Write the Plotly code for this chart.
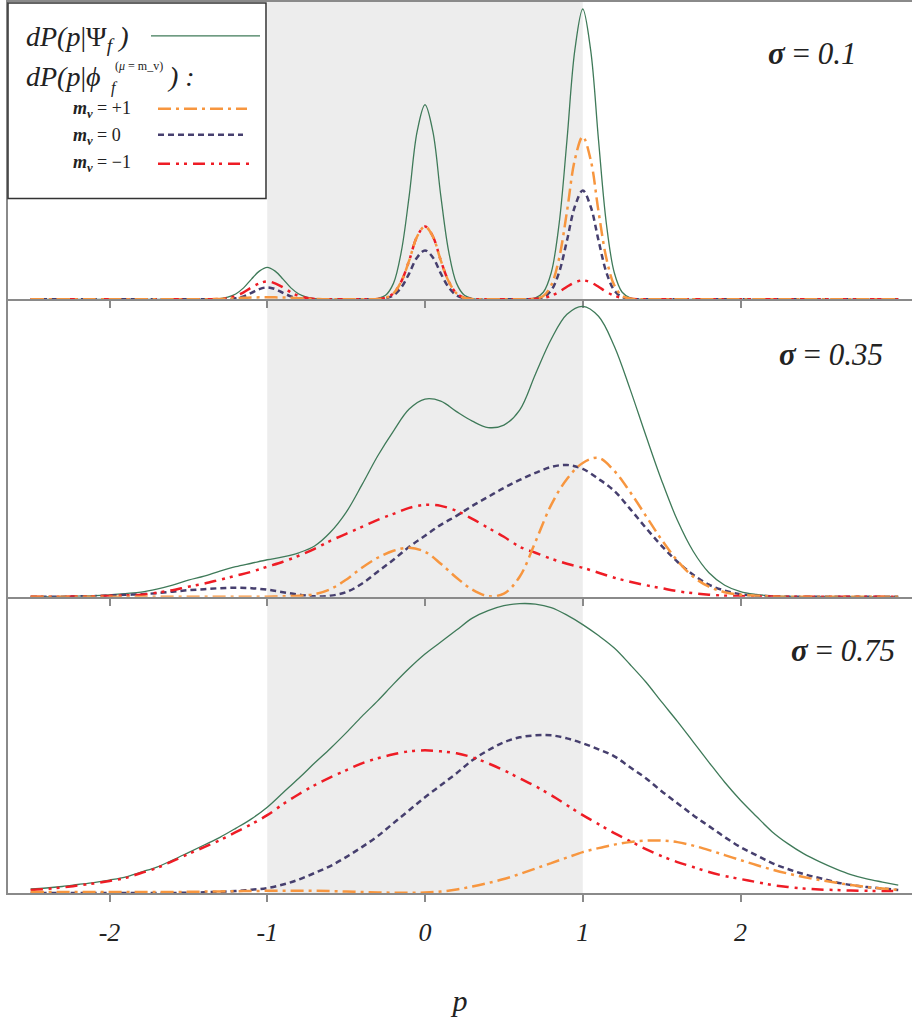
import plotly.graph_objects as go
from plotly.subplots import make_subplots

# ---------------- data ----------------
# Panel 1 (sigma = 0.1)
p1 = [-2.5, -2.0, -1.5, -1.4,
      -1.35, -1.3, -1.25, -1.2, -1.15, -1.1, -1.05, -1.0, -0.95, -0.9, -0.85, -0.8, -0.75, -0.7, -0.65,
      -0.6, -0.5, -0.4,
      -0.35, -0.3, -0.25, -0.2, -0.15, -0.1, -0.05, 0.0, 0.05, 0.1, 0.15, 0.2, 0.25, 0.3, 0.35,
      0.4, 0.5, 0.6,
      0.65, 0.7, 0.75, 0.8, 0.85, 0.9, 0.95, 1.0, 1.05, 1.1, 1.15, 1.2, 1.25, 1.3, 1.35,
      1.4, 1.5, 2.0, 2.5, 3.0]
total1 = [0, 0, 0, 0,
          0.3, 0.75, 2.25, 5.4, 11.5, 20.3, 28.3, 32, 28.3, 20.3, 11.5, 5.4, 2.25, 0.75, 0.3,
          0, 0, 0,
          0, 0.8, 4, 16, 48, 104, 168, 195, 168, 104, 48, 16, 4, 0.8, 0,
          0, 0, 0,
          0.1, 1.5, 7.1, 26.6, 75.5, 159.6, 250, 291, 250, 159.6, 75.5, 26.6, 7.1, 1.5, 0.1,
          0, 0, 0, 0, 0]
plus1 = [0, 0, 0, 0.1,
         0.2, 0.3, 0.6, 1.0, 1.5, 1.8, 2, 2, 2, 1.8, 1.5, 1.0, 0.6, 0.3, 0.2,
         0, 0, 0,
         0, 0.3, 1.5, 6, 18, 39, 63, 73, 63, 39, 18, 6, 1.5, 0.3, 0,
         0, 0, 0,
         0, 0.6, 3.4, 14, 41, 88, 140, 163, 140, 88, 41, 14, 3.4, 0.6, 0,
         0, 0, 0, 0, 0]
zero1 = [0, 0, 0, 0,
         0, 0.05, 0.25, 1, 3, 6.5, 10.3, 12, 10.3, 6.5, 3, 1, 0.25, 0.05, 0,
         0, 0, 0,
         0, 0.2, 1, 4, 12, 26, 42, 49, 42, 26, 12, 4, 1, 0.2, 0,
         0, 0, 0,
         0, 0.4, 2.3, 9, 27, 59, 93, 109, 93, 59, 27, 9, 2.3, 0.4, 0,
         0, 0, 0, 0, 0]
minus1 = [0, 0, 0, 0,
          0.1, 0.4, 1.4, 3.4, 7, 12, 16, 18, 16, 12, 7, 3.4, 1.4, 0.4, 0.1,
          0, 0, 0,
          0, 0.3, 1.5, 6, 18, 39, 63, 73, 63, 39, 18, 6, 1.5, 0.3, 0,
          0, 0, 0,
          0.1, 0.5, 1.4, 3.6, 7.5, 12.6, 17, 19, 17, 12.6, 7.5, 3.6, 1.4, 0.5, 0.1,
          0, 0, 0, 0, 0]

# Panels 2 and 3 share a grid of p values
p23 = [-2.5, -2.4, -2.3, -2.2, -2.1, -2.0, -1.9, -1.8, -1.7, -1.6, -1.5, -1.4, -1.3, -1.2, -1.1,
       -1.0, -0.9, -0.8, -0.7, -0.6, -0.5, -0.4, -0.3, -0.2, -0.1, 0.0, 0.1, 0.2, 0.3, 0.4,
       0.5, 0.6, 0.7, 0.8, 0.9, 1.0, 1.1, 1.2, 1.3, 1.4, 1.5, 1.6, 1.7, 1.8, 1.9,
       2.0, 2.1, 2.2, 2.3, 2.4, 2.5, 2.6, 2.7, 2.8, 2.9, 3.0]

# Panel 2 (sigma = 0.35)
total2 = [0, 0, 0, 0.5, 0.9, 1.8, 3.1, 4.5, 7.5, 11.5, 16.5, 20.5, 25.5, 30, 33.5,
          37, 39.8, 44, 50.8, 64.5, 84.5, 112, 141, 166, 188, 198, 196, 185.5, 176, 169.5,
          172, 187, 223, 258, 283, 291, 281, 251, 208, 161.5, 116.5, 76.5, 45.5, 24, 11.5,
          5.1, 2.3, 0.8, 0.3, 0, 0, 0, 0, 0, 0, 0]
plus2 = [0, 0, 0, 0, 0, 0, 0, 0, 0, 0, 0, 0, 0, 0, 0,
         0, 0.3, 1, 2.5, 7.5, 17, 29, 39, 46, 49, 45, 33, 19, 7, 0.5,
         3, 20, 55, 92, 118, 134, 139, 126, 105, 81, 57, 36, 20, 10, 4.5,
         2, 1, 0.3, 0, 0, 0, 0, 0, 0, 0, 0]
zero2 = [0, 0, 0, 0.3, 0.5, 1, 1.8, 2.5, 3.5, 5, 6.5, 7.5, 8.5, 9, 8.5,
         7, 4.5, 2, 0.3, 1, 4.5, 13, 25, 37, 50, 61, 72, 81, 91, 100,
         109, 117, 124, 130, 132, 128, 118, 106, 88, 69, 51, 35, 22, 12, 6,
         2.5, 1, 0.4, 0, 0, 0, 0, 0, 0, 0, 0]
minus2 = [0, 0, 0, 0.2, 0.4, 0.8, 1.3, 2, 4, 6.5, 10, 13, 17, 21, 25,
          30, 35, 41, 48, 56, 63, 70, 77, 83, 89, 92, 91, 86, 78, 69,
          60, 50, 44, 38, 33, 29, 24, 19, 15, 11.5, 8.5, 5.5, 3.5, 2, 1,
          0.6, 0.3, 0.1, 0, 0, 0, 0, 0, 0, 0, 0]

# Panel 3 (sigma = 0.75)
total3 = [4, 5, 6.5, 8.5, 10.5, 13, 16, 21, 26, 33, 40.5, 48.1, 55.8, 64.8, 74.3,
          86, 100.5, 115, 130.2, 144.9, 160.5, 177, 192.6, 209.3, 225.2, 239.5, 251.5, 263.5, 275.5, 283,
          288, 290, 289.5, 286, 278.5, 269, 258, 245.5, 229, 211.5, 191.5, 172, 151.5, 131, 111,
          93, 77, 61.5, 49.5, 39.5, 31.5, 24.5, 18.5, 14.2, 11, 8]
plus3 = [1, 1, 1, 1, 1, 1, 1, 1, 1, 1, 1.2, 1.4, 1.6, 1.8, 2,
         2.2, 2.3, 2.3, 2.2, 1.9, 1.5, 1, 0.6, 0.3, 0.2, 0.5, 1.5, 3.5, 6.5, 10,
         14, 19, 24.5, 30, 35.5, 41, 45, 48.5, 51, 52.5, 52.5, 51, 47.5, 43, 38,
         33, 28, 23.5, 19.5, 16, 13, 10.5, 8, 6, 4.5, 3]
zero3 = [0, 0, 0, 0, 0, 0, 0, 0, 0, 0, 0.3, 0.7, 1.2, 2, 3.3,
         5, 8.5, 13.5, 20, 27, 36, 46, 57, 70, 83, 96, 108, 120, 133, 143,
         151, 156, 158, 158, 155, 150, 144, 137, 126, 115, 102, 90, 78, 67, 56,
         46, 38, 30, 24, 19, 15, 11, 8, 6, 4.5, 3]
minus3 = [3, 4, 5.5, 7.5, 9.5, 12, 15, 20, 25, 32, 39, 46, 53, 61, 69,
          78, 89, 99, 108, 116, 123, 130, 135, 139, 142, 143, 142, 140, 136, 130,
          123, 115, 107, 98, 88, 78, 69, 60, 52, 44, 37, 31, 26, 21, 17,
          14, 11, 8, 6, 4.5, 3.5, 3, 2.5, 2.2, 2, 2]

sigma_labels = ["0.1", "0.35", "0.75"]
tick_vals = [-2, -1, 0, 1, 2]
tick_text = ["-2", "-1", "0", "1", "2"]
band = [-1, 1]

# ---------------- style ----------------
W, H = 917, 1017
ML, MR, MT, MB = 8, 5, 0, 124
PW, PH = W - ML - MR, H - MT - MB

def px(x):
    return (x - ML) / PW

def py(y):
    return (MT + PH - y) / PH

GREEN = "#3F7A59"
ORANGE = "#F7963F"
NAVY = "#463F6E"
RED = "#EE1C25"
AXIS = "#8A8A8A"
SERIF = "Liberation Serif, Times New Roman, serif"

DASH_PLUS = "13px,5px,3px,5px"
DASH_ZERO = "6px,4px"
DASH_MINUS = "12px,6px,3px,5px,3px,6px"

fig = make_subplots(rows=3, cols=1, shared_xaxes=True, vertical_spacing=0)

panels = [
    (p1, total1, plus1, zero1, minus1),
    (p23, total2, plus2, zero2, minus2),
    (p23, total3, plus3, zero3, minus3),
]

for i, (xs, tot, pl, ze, mi) in enumerate(panels, start=1):
    fig.add_trace(go.Scatter(x=xs, y=tot, mode="lines", line=dict(color=GREEN, width=1.3, shape="spline"),
                             showlegend=False, hoverinfo="skip"), row=i, col=1)
    fig.add_trace(go.Scatter(x=xs, y=ze, mode="lines", line=dict(color=NAVY, width=2.5, dash=DASH_ZERO, shape="spline"),
                             showlegend=False, hoverinfo="skip"), row=i, col=1)
    fig.add_trace(go.Scatter(x=xs, y=mi, mode="lines", line=dict(color=RED, width=2.5, dash=DASH_MINUS, shape="spline"),
                             showlegend=False, hoverinfo="skip"), row=i, col=1)
    fig.add_trace(go.Scatter(x=xs, y=pl, mode="lines", line=dict(color=ORANGE, width=2.5, dash=DASH_PLUS, shape="spline"),
                             showlegend=False, hoverinfo="skip"), row=i, col=1)

b1 = (PH - 298) / PH
b2 = (PH - 596) / PH
domains = [[b1, 1.0], [b2, b1], [0.0, b2]]
ranges = [[0, 298], [0, 298], [0, 297]]
xr = [(ML - 425) / 157.75, (912 - 425) / 157.75]

for i in range(1, 4):
    fig.update_yaxes(domain=domains[i - 1], range=ranges[i - 1], showticklabels=False, ticks="",
                     showgrid=False, zeroline=False, showline=True, linecolor=AXIS, linewidth=2,
                     row=i, col=1)
    fig.update_xaxes(range=xr, showgrid=False, zeroline=False, showline=True, linecolor=AXIS, linewidth=2,
                     ticks="outside", ticklen=7, tickwidth=1.5, tickcolor=AXIS,
                     tickvals=tick_vals, ticktext=tick_text,
                     showticklabels=(i == 3), row=i, col=1)

fig.update_xaxes(mirror=True, row=1, col=1)
fig.update_xaxes(tickfont=dict(family=SERIF, size=26, color="#222222", style="italic"), ticklabelstandoff=8,
                 title=dict(text="<i>p</i>", font=dict(family=SERIF, size=30, color="#222222"), standoff=44),
                 row=3, col=1)

shapes = []
# grey band
shapes.append(dict(type="rect", xref="x3", yref="paper", x0=band[0], x1=band[1], y0=0, y1=1,
                   fillcolor="#EDEDED", line=dict(width=0), layer="below"))
# legend box
shapes.append(dict(type="rect", xref="paper", yref="paper", x0=px(8), x1=px(266), y0=py(197), y1=py(1),
                   fillcolor="white", line=dict(color="#333333", width=1.5), layer="above"))
# legend samples
shapes.append(dict(type="line", xref="paper", yref="paper", x0=px(151), x1=px(260), y0=py(34), y1=py(34),
                   line=dict(color=GREEN, width=1.3)))
shapes.append(dict(type="line", xref="paper", yref="paper", x0=px(158), x1=px(247), y0=py(107), y1=py(107),
                   line=dict(color=ORANGE, width=2.5, dash=DASH_PLUS)))
shapes.append(dict(type="line", xref="paper", yref="paper", x0=px(158), x1=px(243), y0=py(133), y1=py(133),
                   line=dict(color=NAVY, width=2.5, dash=DASH_ZERO)))
shapes.append(dict(type="line", xref="paper", yref="paper", x0=px(158), x1=px(250), y0=py(162), y1=py(162),
                   line=dict(color=RED, width=2.5, dash=DASH_MINUS)))

ann = []
def text(x, y, s, size, xanchor="left", color="#222222"):
    ann.append(dict(xref="paper", yref="paper", x=px(x), y=py(y), text=s, showarrow=False,
                    xanchor=xanchor, yanchor="middle", font=dict(family=SERIF, size=size, color=color)))

text(24, 37, "<i>dP(p</i>|Ψ<sub><i>f</i></sub><i> )</i>", 28)
text(24, 75, "<i>dP(p</i>|<i>ϕ</i>", 28)
text(109, 86, "<i>f</i>", 16)
text(113, 64, "(<i>μ</i> = m_v)", 12)
text(165, 75, "<i>) :</i>", 28)
text(71, 108, "<b><i>m</i></b><sub><b><i>v</i></b></sub> = +1", 18)
text(71, 135, "<b><i>m</i></b><sub><b><i>v</i></b></sub> = 0", 18)
text(71, 162, "<b><i>m</i></b><sub><b><i>v</i></b></sub> = −1", 18)

sig_pos = [(858, 52), (885, 353), (897, 650)]
for (sx, sy), lab in zip(sig_pos, sigma_labels):
    text(sx, sy, "<b><i>σ</i></b> = <i>" + lab + "</i>", 31, xanchor="right")

fig.update_layout(width=W, height=H, margin=dict(l=ML, r=MR, t=MT, b=MB),
                  plot_bgcolor="white", paper_bgcolor="white", showlegend=False,
                  shapes=shapes, annotations=ann)

fig.write_html("out.html", config={"displayModeBar": False},
               post_script="document.body.style.margin='0';")
